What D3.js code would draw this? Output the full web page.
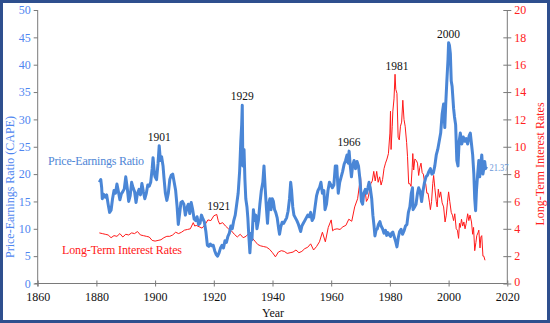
<!DOCTYPE html>
<html><head><meta charset="utf-8">
<script src="https://cdn.jsdelivr.net/npm/d3@7"></script>
<style>body{margin:0;background:#fff}svg{display:block}svg text{font-family:"Liberation Serif","Times New Roman","DejaVu Serif",serif}</style>
</head><body>
<svg id="c" width="550" height="323"></svg>
<script>
// ---- data ----
const peYears = [1881.0,1881.5,1881.8,1882.0,1882.5,1883.0,1883.5,1884.0,1884.5,1885.0,1885.5,1886.0,1886.5,1887.0,1887.5,1888.0,1888.5,1889.0,1889.5,1890.0,1890.5,1891.0,1891.5,1892.0,1892.5,1893.0,1893.5,1894.0,1894.5,1895.0,1895.5,1896.0,1896.5,1897.0,1897.5,1898.0,1898.5,1899.0,1899.3,1899.8,1900.0,1900.5,1901.0,1901.4,1901.8,1902.2,1902.7,1903.0,1903.5,1904.0,1904.5,1905.0,1905.5,1906.0,1906.5,1907.0,1907.5,1907.9,1908.3,1908.8,1909.3,1909.8,1910.3,1910.8,1911.3,1911.8,1912.3,1912.8,1913.3,1913.8,1914.3,1914.8,1915.3,1915.8,1916.3,1916.8,1917.3,1917.8,1918.3,1918.8,1919.3,1919.8,1920.3,1920.8,1921.3,1921.8,1922.3,1922.8,1923.3,1923.8,1924.3,1924.8,1925.3,1925.8,1926.3,1926.8,1927.3,1927.8,1928.3,1928.8,1929.2,1929.5,1929.7,1929.9,1930.3,1930.6,1930.9,1931.3,1931.6,1931.9,1932.3,1932.7,1933.0,1933.5,1933.9,1934.3,1934.7,1935.2,1935.7,1936.2,1936.7,1937.1,1937.5,1937.9,1938.3,1938.7,1939.1,1939.5,1939.9,1940.3,1940.7,1941.1,1941.6,1942.1,1942.4,1942.8,1943.3,1943.8,1944.3,1944.8,1945.3,1945.8,1946.2,1946.5,1946.9,1947.3,1947.8,1948.3,1948.7,1949.2,1949.6,1950.0,1950.5,1951.0,1951.5,1952.0,1952.5,1953.0,1953.5,1954.0,1954.5,1955.0,1955.5,1956.0,1956.5,1957.0,1957.5,1957.9,1958.4,1958.9,1959.4,1959.9,1960.4,1960.9,1961.4,1961.9,1962.4,1962.9,1963.4,1963.9,1964.4,1964.9,1965.4,1965.8,1966.1,1966.5,1966.9,1967.3,1967.8,1968.3,1968.8,1969.3,1969.8,1970.3,1970.7,1971.1,1971.6,1972.0,1972.5,1972.9,1973.3,1973.8,1974.2,1974.6,1974.9,1975.3,1975.7,1976.1,1976.6,1977.0,1977.5,1978.0,1978.5,1978.9,1979.3,1979.8,1980.2,1980.6,1981.0,1981.5,1982.0,1982.4,1982.9,1983.3,1983.8,1984.3,1984.8,1985.3,1985.8,1986.3,1986.8,1987.3,1987.7,1987.9,1988.4,1988.9,1989.4,1989.8,1990.3,1990.8,1991.3,1991.8,1992.3,1992.8,1993.3,1993.8,1994.3,1994.8,1995.3,1995.8,1996.3,1996.8,1997.3,1997.8,1998.3,1998.7,1999.0,1999.4,1999.8,2000.0,2000.3,2000.6,2000.9,2001.2,2001.7,2002.0,2002.4,2002.8,2003.2,2003.6,2004.0,2004.5,2005.0,2005.5,2006.0,2006.5,2007.0,2007.4,2007.8,2008.2,2008.6,2008.9,2009.2,2009.5,2009.9,2010.3,2010.6,2010.9,2011.3,2011.7,2012.0,2012.3,2012.6,2012.9];
const peValues = [18.5,19.0,17.5,15.5,16.3,15.8,16.2,14.5,13.0,13.4,15.5,17.0,16.5,18.2,16.8,15.3,16.4,16.8,17.3,19.5,17.5,15.0,16.0,18.5,17.5,16.8,14.8,16.5,17.2,16.2,18.3,16.8,15.5,16.5,18.0,17.8,18.5,21.0,23.0,20.0,19.5,19.0,22.0,25.2,22.5,23.2,21.5,19.5,16.5,15.2,16.5,19.0,19.8,20.0,18.5,17.0,14.0,10.8,12.5,14.8,15.0,14.5,12.5,13.8,14.5,12.8,14.8,13.5,11.8,11.5,12.2,10.8,11.0,12.5,11.8,11.2,9.5,7.0,6.8,7.2,6.9,7.0,6.0,5.3,5.0,5.6,6.5,7.0,6.5,7.8,7.5,8.6,9.2,10.5,10.0,11.5,12.5,14.5,16.5,20.5,26.0,29.0,32.6,21.5,24.5,19.0,15.5,14.0,12.0,9.0,5.6,9.2,8.0,13.5,11.5,12.5,10.0,11.5,14.5,17.0,18.5,21.5,17.5,14.0,11.0,14.5,15.5,13.5,15.5,15.0,13.5,13.0,12.0,10.0,9.0,10.3,11.2,11.0,11.5,12.0,13.2,15.5,18.5,17.0,14.0,12.5,12.0,11.5,11.0,10.2,9.5,10.5,11.0,11.5,12.0,12.5,12.2,13.0,11.5,12.0,14.0,16.0,17.0,17.5,18.5,16.5,17.0,13.5,14.5,17.0,18.5,18.0,17.5,18.0,21.5,21.5,16.5,18.5,19.5,20.5,21.8,22.5,23.5,22.0,24.2,21.5,19.5,21.5,22.5,21.0,22.3,21.5,19.0,15.0,14.5,16.5,17.2,16.5,17.5,18.5,17.5,15.5,12.5,10.5,8.7,9.8,10.0,10.8,11.3,10.5,10.0,9.2,9.7,8.8,9.3,8.9,8.6,9.2,9.4,8.5,7.6,6.7,8.5,9.5,9.9,9.0,9.6,10.5,10.8,13.0,14.0,16.5,17.5,13.5,14.0,14.5,16.5,17.5,16.8,15.0,17.0,18.5,19.5,19.8,20.5,21.0,20.0,20.2,21.5,23.5,24.5,26.0,27.5,31.0,32.8,28.5,32.5,37.0,41.0,44.0,43.5,42.0,37.0,36.0,32.0,30.5,29.0,22.5,21.5,26.0,27.5,25.5,26.8,26.0,26.5,25.5,27.0,27.5,25.5,23.5,20.0,15.5,13.3,17.0,20.0,22.5,19.5,21.5,23.5,20.0,21.0,22.3,21.0,21.37];

const rateYears = [1881,1882,1883,1884,1885,1886,1887,1888,1889,1890,1891,1892,1893,1894,1895,1896,1897,1898,1899,1900,1901,1902,1903,1904,1905,1906,1907,1908,1909,1910,1911,1912,1913,1913.5,1914,1915,1916,1917,1918,1919,1920,1921,1921.5,1922,1923,1924,1925,1926,1927,1928,1929,1930,1931,1932,1933,1934,1935,1936,1937,1938,1939,1940,1941,1942,1943,1944,1945,1946,1947,1948,1949,1950,1951,1952,1953,1954,1955,1956,1957,1958,1959,1960,1960.5,1961,1962,1963,1964,1965,1966,1967,1968,1969,1970,1970.5,1971,1971.5,1972,1972.5,1973,1973.5,1974,1974.5,1975,1975.5,1976,1976.5,1977,1977.5,1978,1978.5,1979,1979.5,1980,1980.2,1980.4,1980.8,1981,1981.4,1981.75,1982,1982.4,1982.8,1983.2,1983.6,1984.0,1984.4,1984.8,1985.2,1985.7,1986.0,1986.4,1986.8,1987.2,1987.6,1987.8,1988.1,1988.5,1989.0,1989.4,1989.8,1990.2,1990.6,1991.0,1991.4,1991.8,1992.2,1992.6,1993.0,1993.5,1993.8,1994.2,1994.6,1994.9,1995.3,1995.8,1996.1,1996.5,1996.9,1997.3,1997.8,1998.3,1998.8,1999.2,1999.6,2000.0,2000.4,2000.9,2001.3,2001.7,2002.1,2002.6,2003.0,2003.4,2003.7,2004.0,2004.4,2004.8,2005.2,2005.6,2006.0,2006.5,2006.9,2007.3,2007.8,2008.2,2008.5,2008.9,2009.3,2009.6,2010.0,2010.3,2010.7,2011.0,2011.3,2011.7,2012.0,2012.4];
const rateValues = [3.7,3.65,3.6,3.55,3.35,3.5,3.45,3.65,3.4,3.6,3.55,3.7,3.65,3.8,3.55,3.5,3.45,3.4,3.15,3.1,3.15,3.2,3.35,3.45,3.45,3.55,3.75,3.65,3.75,3.9,3.95,4.0,4.45,4.2,4.25,4.15,4.05,4.3,4.65,4.6,4.95,5.05,4.6,4.35,4.45,4.2,4.0,3.85,3.6,3.4,3.6,3.35,3.45,3.7,3.35,3.1,2.85,2.75,2.7,2.65,2.5,2.25,1.95,2.3,2.4,2.35,2.2,2.25,2.3,2.45,2.25,2.35,2.55,2.65,2.9,2.45,2.7,3.05,3.75,3.05,4.1,4.65,3.85,3.95,4.0,3.95,4.15,4.25,4.7,4.55,5.6,6.2,7.8,6.0,6.3,6.9,6.0,6.2,6.7,7.3,7.5,8.2,7.5,8.2,7.4,7.8,7.2,7.6,8.4,8.8,9.1,9.5,11.0,12.6,9.8,11.5,12.6,13.5,15.3,14.2,13.9,10.7,10.5,11.5,11.8,13.4,12.0,11.5,10.3,9.3,7.3,7.3,7.1,8.5,9.5,8.3,9.1,9.0,8.8,7.9,8.5,8.8,8.1,8.0,7.4,7.3,6.6,6.6,5.9,5.4,6.0,7.3,7.9,7.0,6.0,5.6,6.9,6.3,6.7,5.9,5.6,4.5,5.0,5.9,6.7,6.0,5.2,5.0,4.6,5.1,4.0,3.9,3.3,4.4,4.1,4.7,4.2,4.5,4.0,4.4,5.1,4.6,5.0,4.5,3.6,4.1,2.4,3.0,3.5,3.7,3.9,2.6,3.4,3.5,2.0,2.0,1.7];

const xTicks = [1860,1880,1900,1920,1940,1960,1980,2000,2020];
const leftTicks = [0,5,10,15,20,25,30,35,40,45,50];
const rightTicks = [0,2,4,6,8,10,12,14,16,18,20];
const peakLabels = [
  {text:"1901", year:1901.4, value:25.2},
  {text:"1929", year:1929.7, value:32.6},
  {text:"1966", year:1966.1, value:24.2},
  {text:"2000", year:2000.0, value:44.0}
];
const rateLabels = [
  {text:"1921", year:1921.0, value:5.05},
  {text:"1981", year:1981.75, value:15.3}
];
const lastPE = "21.37";

// ---- drawing ----
const svg = d3.select("#c");
const W = 550, H = 323;
const serif = '"Liberation Serif","Times New Roman","DejaVu Serif",serif';
const pL = 37.7, pR = 507.3, pT = 10, pB = 283.5;

const x = d3.scaleLinear().domain([1860,2020]).range([pL,pR]);
const yL = d3.scaleLinear().domain([0,50]).range([pB,pT]);
const yR = d3.scaleLinear().domain([0,20]).range([pB,pT]);

svg.append("rect").attr("x",0).attr("y",0).attr("width",W).attr("height",H).attr("fill","#fff");

function styleText(sel, size, color){
  sel.attr("font-family",serif).style("font-family",serif)
     .attr("font-size",size).style("font-size",size+"px").attr("fill",color);
}

const axisColor = "#7a7a7a";
// left axis
const gL = svg.append("g").attr("transform",`translate(${pL},0)`)
  .call(d3.axisLeft(yL).tickValues(leftTicks).tickSize(4).tickPadding(3));
gL.attr("font-family",serif);
gL.select(".domain").attr("stroke",axisColor).attr("d",`M0,${pT}V${pB+3}`);
gL.selectAll(".tick line").attr("stroke",axisColor);
styleText(gL.selectAll("text"),12,"#4f86f0");

// right axis (ticks crossing)
const gR = svg.append("g").attr("transform",`translate(${pR},0)`)
  .call(d3.axisRight(yR).tickValues(rightTicks).tickSize(4).tickPadding(3));
gR.attr("font-family",serif);
gR.select(".domain").attr("stroke",axisColor).attr("d",`M0,${pT}V${pB}`);
gR.selectAll(".tick line").attr("stroke",axisColor).attr("x1",-4);
styleText(gR.selectAll("text"),12,"#ff2020");
gR.selectAll(".tick").filter(d=>d===0).select("text").attr("dy","0.2em");

// bottom axis
const gB = svg.append("g").attr("transform",`translate(0,${pB})`)
  .call(d3.axisBottom(x).tickValues(xTicks).tickFormat(d3.format("d")).tickSize(3).tickPadding(6));
gB.attr("font-family",serif);
gB.select(".domain").attr("stroke",axisColor).attr("d",`M${pL-3},0H${pR}`);
gB.selectAll(".tick line").attr("stroke",axisColor).attr("y1",-3);
styleText(gB.selectAll("text"),12,"#111");

// series
const peData = peYears.map((yr,i)=>({yr, v:peValues[i]}));
const rateData = rateYears.map((yr,i)=>({yr, v:rateValues[i]}));

svg.append("path").datum(rateData)
  .attr("fill","none").attr("stroke","#ff1a1a").attr("stroke-width",1)
  .attr("stroke-linejoin","round")
  .attr("d", d3.line().x(d=>x(d.yr)).y(d=>yR(d.v)));

svg.append("path").datum(peData)
  .attr("fill","none").attr("stroke","#4a86d6").attr("stroke-width",3)
  .attr("stroke-linejoin","round")
  .attr("d", d3.line().x(d=>x(d.yr)).y(d=>yL(d.v)));

// peak labels
styleText(svg.selectAll(".pk").data(peakLabels).join("text")
  .attr("x",d=>x(d.year)).attr("y",d=>yL(d.value)-5)
  .attr("text-anchor","middle").text(d=>d.text), 11.5, "#111");
styleText(svg.selectAll(".rk").data(rateLabels).join("text")
  .attr("x",d=>x(d.year)+2).attr("y",d=>yR(d.value)-4)
  .attr("text-anchor","middle").text(d=>d.text), 11.5, "#111");

// last value
styleText(svg.append("text").attr("x",x(2012.9)+3).attr("y",yL(21.37)+4)
  .attr("textLength",19).attr("lengthAdjust","spacingAndGlyphs").text(lastPE), 11, "#6b98d8");

// series labels
styleText(svg.append("text").attr("x",48).attr("y",165)
  .attr("textLength",96).attr("lengthAdjust","spacing").text("Price-Earnings Ratio"), 12, "#4f86d6");
styleText(svg.append("text").attr("x",62).attr("y",254)
  .attr("textLength",120).attr("lengthAdjust","spacing").text("Long-Term Interest Rates"), 12, "#ff2020");

// axis titles
styleText(svg.append("text").attr("transform","translate(14,187) rotate(-90)")
  .attr("text-anchor","middle").text("Price-Earnings Ratio (CAPE)"), 12, "#4f86f0");
styleText(svg.append("text").attr("transform","translate(544,164) rotate(-90)")
  .attr("text-anchor","middle").text("Long-Term Interest Rates"), 12, "#ff2020");
styleText(svg.append("text").attr("x",273).attr("y",317).attr("text-anchor","middle").text("Year"), 12, "#111");

// frame
svg.append("rect").attr("x",1.5).attr("y",1.5).attr("width",W-3).attr("height",H-3)
  .attr("fill","none").attr("stroke","#2e4f8e").attr("stroke-width",3);
</script>
</body></html>
